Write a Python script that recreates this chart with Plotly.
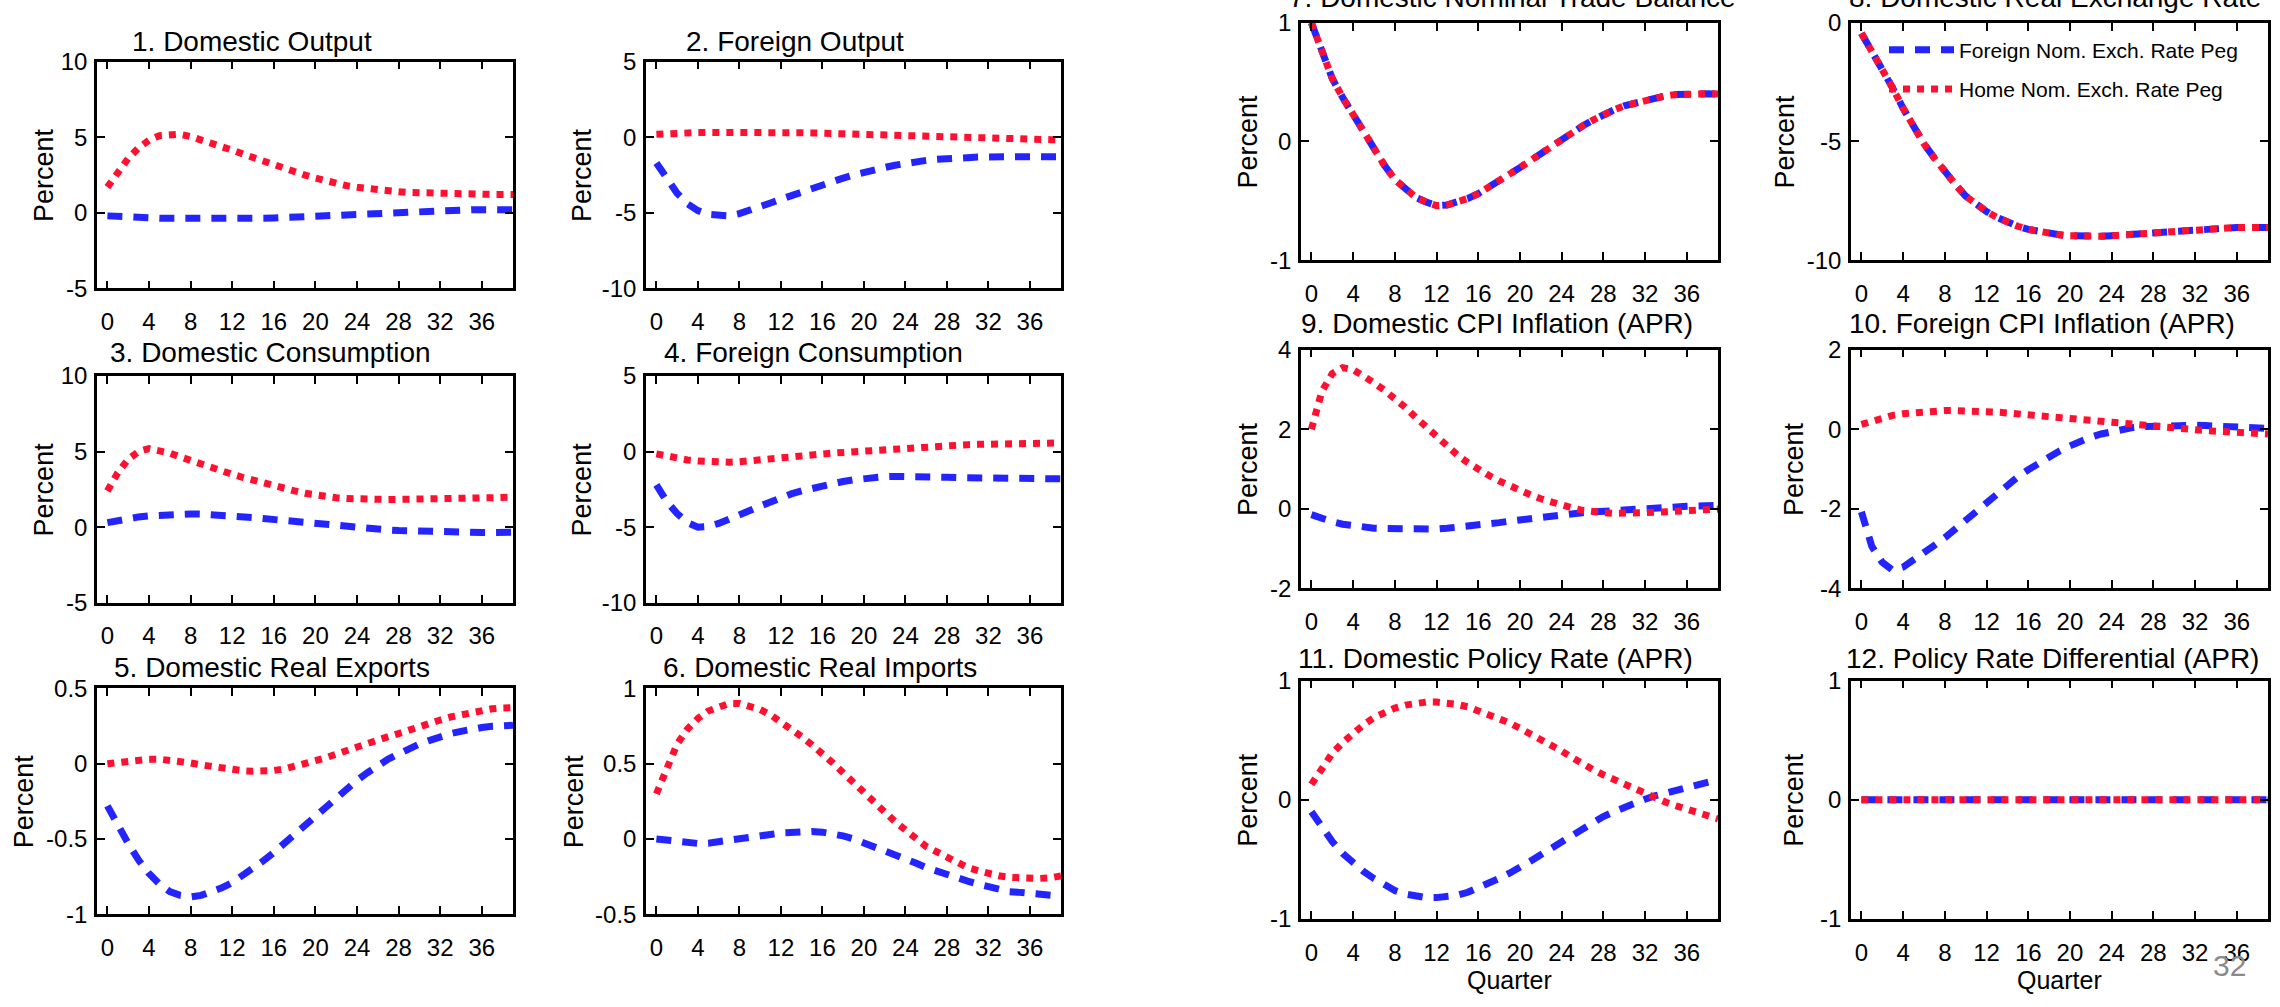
import plotly.graph_objects as go

W, H = 2280, 1007

quarters = list(range(40))

# ---- data ----
dom_output_foreign = [-0.2, -0.25, -0.3, -0.32, -0.34, -0.35, -0.36, -0.37, -0.37, -0.38, -0.38, -0.38, -0.38, -0.38, -0.37, -0.36, -0.34, -0.31, -0.28, -0.24, -0.2, -0.16, -0.12, -0.08, -0.04, 0.0, 0.04, 0.08, 0.11, 0.14, 0.16, 0.18, 0.19, 0.2, 0.21, 0.21, 0.21, 0.21, 0.2, 0.2]
dom_output_home = [1.7, 2.7, 3.6, 4.3, 4.8, 5.1, 5.2, 5.2, 5.05, 4.85, 4.65, 4.4, 4.15, 3.9, 3.65, 3.4, 3.15, 2.9, 2.7, 2.5, 2.3, 2.1, 1.95, 1.8, 1.7, 1.6, 1.5, 1.45, 1.4, 1.35, 1.32, 1.3, 1.28, 1.26, 1.25, 1.24, 1.23, 1.22, 1.22, 1.22]

for_output_foreign = [-1.7, -2.8, -3.7, -4.4, -4.85, -5.1, -5.2, -5.2, -5.05, -4.85, -4.6, -4.35, -4.1, -3.85, -3.6, -3.35, -3.1, -2.9, -2.7, -2.5, -2.3, -2.15, -2.0, -1.85, -1.72, -1.62, -1.53, -1.46, -1.4, -1.36, -1.33, -1.31, -1.3, -1.29, -1.28, -1.28, -1.28, -1.28, -1.28, -1.28]
for_output_home = [0.2, 0.25, 0.28, 0.3, 0.31, 0.32, 0.33, 0.33, 0.33, 0.33, 0.33, 0.32, 0.32, 0.31, 0.3, 0.29, 0.27, 0.25, 0.22, 0.19, 0.16, 0.13, 0.1, 0.07, 0.04, 0.01, -0.02, -0.04, -0.06, -0.08, -0.1, -0.11, -0.12, -0.13, -0.14, -0.15, -0.15, -0.16, -0.16, -0.16]

dom_cons_foreign = [0.3, 0.45, 0.58, 0.68, 0.75, 0.8, 0.84, 0.87, 0.88, 0.87, 0.84, 0.8, 0.75, 0.7, 0.64, 0.57, 0.5, 0.43, 0.36, 0.29, 0.22, 0.15, 0.08, 0.02, -0.04, -0.09, -0.14, -0.18, -0.22, -0.25, -0.28, -0.3, -0.32, -0.33, -0.34, -0.35, -0.35, -0.35, -0.34, -0.33]
dom_cons_home = [2.4, 3.6, 4.5, 5.0, 5.2, 5.1, 4.9, 4.65, 4.4, 4.15, 3.9, 3.7, 3.5, 3.3, 3.1, 2.9, 2.7, 2.55, 2.4, 2.25, 2.12, 2.02, 1.95, 1.9, 1.86, 1.84, 1.83, 1.83, 1.84, 1.85, 1.87, 1.89, 1.91, 1.93, 1.95, 1.96, 1.97, 1.98, 1.98, 1.98]

for_cons_foreign = [-2.2, -3.3, -4.1, -4.7, -5.0, -4.95, -4.75, -4.5, -4.2, -3.9, -3.6, -3.3, -3.0, -2.8, -2.6, -2.42, -2.27, -2.12, -1.98, -1.87, -1.77, -1.7, -1.66, -1.64, -1.63, -1.64, -1.66, -1.68, -1.7, -1.72, -1.73, -1.74, -1.75, -1.76, -1.77, -1.78, -1.78, -1.79, -1.79, -1.8]
for_cons_home = [-0.15, -0.3, -0.45, -0.55, -0.62, -0.67, -0.7, -0.7, -0.67, -0.62, -0.55, -0.48, -0.41, -0.34, -0.28, -0.22, -0.16, -0.1, -0.05, 0.0, 0.05, 0.1, 0.15, 0.2, 0.25, 0.29, 0.33, 0.37, 0.4, 0.43, 0.46, 0.48, 0.5, 0.52, 0.54, 0.55, 0.56, 0.57, 0.57, 0.57]

exports_foreign = [-0.28, -0.41, -0.53, -0.64, -0.73, -0.8, -0.85, -0.875, -0.885, -0.875, -0.855, -0.825, -0.79, -0.745, -0.7, -0.645, -0.59, -0.53, -0.47, -0.405, -0.34, -0.285, -0.23, -0.17, -0.11, -0.06, -0.01, 0.03, 0.065, 0.1, 0.13, 0.155, 0.18, 0.2, 0.215, 0.23, 0.24, 0.248, 0.252, 0.255]
exports_home = [0.0, 0.01, 0.02, 0.025, 0.03, 0.03, 0.025, 0.015, 0.005, -0.008, -0.02, -0.03, -0.04, -0.047, -0.05, -0.05, -0.045, -0.035, -0.02, 0.0, 0.02, 0.04, 0.065, 0.088, 0.11, 0.135, 0.16, 0.18, 0.2, 0.225, 0.25, 0.27, 0.29, 0.31, 0.325, 0.34, 0.355, 0.365, 0.37, 0.372]

imports_foreign = [0.0, -0.01, -0.02, -0.027, -0.03, -0.028, -0.02, -0.01, 0.0, 0.01, 0.02, 0.03, 0.04, 0.047, 0.05, 0.05, 0.045, 0.035, 0.02, 0.0, -0.025, -0.052, -0.08, -0.105, -0.13, -0.16, -0.19, -0.215, -0.24, -0.26, -0.28, -0.3, -0.32, -0.335, -0.35, -0.355, -0.36, -0.368, -0.375, -0.38]
imports_home = [0.3, 0.48, 0.63, 0.73, 0.8, 0.85, 0.88, 0.9, 0.9, 0.885, 0.86, 0.825, 0.78, 0.73, 0.68, 0.625, 0.57, 0.505, 0.44, 0.375, 0.31, 0.24, 0.17, 0.115, 0.06, 0.005, -0.05, -0.085, -0.12, -0.155, -0.19, -0.21, -0.23, -0.245, -0.255, -0.26, -0.262, -0.262, -0.258, -0.245]

trade_bal_foreign = [1.0, 0.75, 0.53, 0.37, 0.23, 0.07, -0.07, -0.2, -0.32, -0.4, -0.47, -0.51, -0.54, -0.535, -0.51, -0.48, -0.44, -0.39, -0.33, -0.275, -0.22, -0.16, -0.1, -0.04, 0.025, 0.08, 0.13, 0.18, 0.23, 0.265, 0.3, 0.325, 0.35, 0.37, 0.385, 0.395, 0.4, 0.402, 0.402, 0.4]
trade_bal_home = [1.0, 0.75, 0.53, 0.37, 0.23, 0.07, -0.07, -0.2, -0.32, -0.4, -0.47, -0.51, -0.54, -0.535, -0.51, -0.48, -0.44, -0.39, -0.33, -0.275, -0.22, -0.16, -0.1, -0.04, 0.025, 0.08, 0.13, 0.18, 0.23, 0.265, 0.3, 0.325, 0.35, 0.37, 0.385, 0.395, 0.4, 0.402, 0.402, 0.4]

rer_foreign = [-0.44, -1.2, -1.9, -2.75, -3.6, -4.35, -5.1, -5.7, -6.3, -6.8, -7.3, -7.65, -7.95, -8.2, -8.4, -8.57, -8.7, -8.8, -8.88, -8.93, -8.97, -8.99, -9.0, -8.99, -8.97, -8.94, -8.9, -8.85, -8.8, -8.77, -8.74, -8.7, -8.67, -8.65, -8.63, -8.62, -8.62, -8.62, -8.62, -8.62]
rer_home = [-0.44, -1.2, -1.9, -2.75, -3.6, -4.35, -5.1, -5.7, -6.3, -6.8, -7.3, -7.65, -7.95, -8.2, -8.4, -8.57, -8.7, -8.8, -8.88, -8.93, -8.97, -8.99, -9.0, -8.99, -8.97, -8.94, -8.9, -8.85, -8.8, -8.77, -8.74, -8.7, -8.67, -8.65, -8.63, -8.62, -8.62, -8.62, -8.62, -8.62]

dom_cpi_foreign = [-0.15, -0.25, -0.33, -0.39, -0.43, -0.46, -0.49, -0.5, -0.51, -0.52, -0.52, -0.52, -0.51, -0.49, -0.47, -0.44, -0.41, -0.38, -0.35, -0.315, -0.28, -0.25, -0.22, -0.185, -0.15, -0.125, -0.1, -0.08, -0.06, -0.04, -0.02, -0.01, 0.0, 0.015, 0.03, 0.045, 0.06, 0.07, 0.08, 0.085]
dom_cpi_home = [2.0, 2.95, 3.4, 3.55, 3.5, 3.35, 3.17, 2.98, 2.78, 2.55, 2.3, 2.05, 1.8, 1.57, 1.35, 1.16, 0.98, 0.84, 0.7, 0.57, 0.45, 0.35, 0.25, 0.16, 0.08, 0.02, -0.04, -0.08, -0.1, -0.115, -0.12, -0.115, -0.1, -0.09, -0.08, -0.065, -0.05, -0.04, -0.03, -0.01]

for_cpi_foreign = [-2.08, -2.95, -3.35, -3.55, -3.47, -3.3, -3.1, -2.92, -2.73, -2.51, -2.29, -2.06, -1.84, -1.61, -1.39, -1.2, -1.02, -0.85, -0.69, -0.55, -0.42, -0.3, -0.2, -0.12, -0.06, 0.0, 0.04, 0.065, 0.08, 0.092, 0.1, 0.1, 0.1, 0.092, 0.08, 0.072, 0.065, 0.05, 0.03, 0.02]
for_cpi_home = [0.12, 0.21, 0.29, 0.35, 0.39, 0.42, 0.45, 0.46, 0.47, 0.47, 0.47, 0.46, 0.45, 0.43, 0.41, 0.385, 0.36, 0.33, 0.3, 0.275, 0.25, 0.225, 0.2, 0.175, 0.15, 0.125, 0.1, 0.082, 0.065, 0.04, 0.02, 0.0, -0.02, -0.035, -0.05, -0.065, -0.08, -0.09, -0.1, -0.12]

policy_foreign = [-0.1, -0.23, -0.35, -0.45, -0.53, -0.6, -0.66, -0.715, -0.76, -0.79, -0.81, -0.82, -0.82, -0.815, -0.8, -0.775, -0.74, -0.7, -0.66, -0.615, -0.57, -0.515, -0.46, -0.405, -0.35, -0.295, -0.24, -0.19, -0.14, -0.1, -0.06, -0.025, 0.005, 0.035, 0.06, 0.085, 0.11, 0.135, 0.155, 0.17]
policy_home = [0.13, 0.27, 0.39, 0.48, 0.56, 0.63, 0.69, 0.735, 0.77, 0.795, 0.81, 0.82, 0.82, 0.815, 0.8, 0.78, 0.75, 0.72, 0.69, 0.645, 0.6, 0.555, 0.51, 0.46, 0.41, 0.355, 0.3, 0.255, 0.21, 0.17, 0.13, 0.09, 0.05, 0.015, -0.02, -0.05, -0.08, -0.105, -0.13, -0.16]

rate_diff_foreign = [0.0, 0.0, 0.0, 0.0, 0.0, 0.0, 0.0, 0.0, 0.0, 0.0, 0.0, 0.0, 0.0, 0.0, 0.0, 0.0, 0.0, 0.0, 0.0, 0.0, 0.0, 0.0, 0.0, 0.0, 0.0, 0.0, 0.0, 0.0, 0.0, 0.0, 0.0, 0.0, 0.0, 0.0, 0.0, 0.0, 0.0, 0.0, 0.0, 0.0]
rate_diff_home = [0.0, 0.0, 0.0, 0.0, 0.0, 0.0, 0.0, 0.0, 0.0, 0.0, 0.0, 0.0, 0.0, 0.0, 0.0, 0.0, 0.0, 0.0, 0.0, 0.0, 0.0, 0.0, 0.0, 0.0, 0.0, 0.0, 0.0, 0.0, 0.0, 0.0, 0.0, 0.0, 0.0, 0.0, 0.0, 0.0, 0.0, 0.0, 0.0, 0.0]

titles = ["1. Domestic Output", "2. Foreign Output", "3. Domestic Consumption", "4. Foreign Consumption",
          "5. Domestic Real Exports", "6. Domestic Real Imports", "7. Domestic Nominal Trade Balance",
          "8. Domestic Real Exchange Rate", "9. Domestic CPI Inflation (APR)", "10. Foreign CPI Inflation (APR)",
          "11. Domestic Policy Rate (APR)", "12. Policy Rate Differential (APR)"]

y_ranges = [[-5, 10], [-10, 5], [-5, 10], [-10, 5], [-1, 0.5], [-0.5, 1],
            [-1, 1], [-10, 0], [-2, 4], [-4, 2], [-1, 1], [-1, 1]]
y_tickvals = [[-5, 0, 5, 10], [-10, -5, 0, 5], [-5, 0, 5, 10], [-10, -5, 0, 5],
              [-1, -0.5, 0, 0.5], [-0.5, 0, 0.5, 1], [-1, 0, 1], [-10, -5, 0],
              [-2, 0, 2, 4], [-4, -2, 0, 2], [-1, 0, 1], [-1, 0, 1]]
y_ticktext = [["-5", "0", "5", "10"], ["-10", "-5", "0", "5"], ["-5", "0", "5", "10"], ["-10", "-5", "0", "5"],
              ["-1", "-0.5", "0", "0.5"], ["-0.5", "0", "0.5", "1"], ["-1", "0", "1"], ["-10", "-5", "0"],
              ["-2", "0", "2", "4"], ["-4", "-2", "0", "2"], ["-1", "0", "1"], ["-1", "0", "1"]]
x_tickvals = [0, 4, 8, 12, 16, 20, 24, 28, 32, 36]
x_ticktext = ["0", "4", "8", "12", "16", "20", "24", "28", "32", "36"]

foreign_series = [dom_output_foreign, for_output_foreign, dom_cons_foreign, for_cons_foreign,
                  exports_foreign, imports_foreign, trade_bal_foreign, rer_foreign,
                  dom_cpi_foreign, for_cpi_foreign, policy_foreign, rate_diff_foreign]
home_series = [dom_output_home, for_output_home, dom_cons_home, for_cons_home,
               exports_home, imports_home, trade_bal_home, rer_home,
               dom_cpi_home, for_cpi_home, policy_home, rate_diff_home]

legend_names = ["Foreign Nom. Exch. Rate Peg", "Home Nom. Exch. Rate Peg"]

# ---- layout geometry (pixels) ----
cols_px = {"A": (97, 513), "B": (646, 1061), "C": (1301, 1718), "D": (1851, 2268)}
rows_left = [(49, 282), (372, 605), (693, 925)]
rows_right = [(9, 253), (345, 590), (685, 930)]
panel_pos = []
for i in range(12):
    if i < 6:
        col = "A" if i % 2 == 0 else "B"
        row = rows_left[i // 2]
    else:
        col = "C" if i % 2 == 0 else "D"
        row = rows_right[(i - 6) // 2]
    panel_pos.append((cols_px[col], row))

title_pos = [(252, 28), (795, 28), (270, 348), (813, 348), (272, 672), (820, 672),
             (1512, -17), (2055, -17), (1497, 318), (2042, 318), (1495, 662), (2052, 662)]
percent_x = [44, 582, 44, 582, 24, 574, 1248, 1785, 1248, 1794, 1248, 1794]

BLUE = "#2424ff"
RED = "#ff1030"
FONT = "Liberation Sans, Arial, sans-serif"

fig = go.Figure()
layout = dict(width=W, height=H, margin=dict(l=0, r=0, t=0, b=0),
              paper_bgcolor="white", plot_bgcolor="white")
annotations = []

for i in range(12):
    n = i + 1
    xs = "" if n == 1 else str(n)
    (x0, x1), (y0, y1) = panel_pos[i]
    fig.add_trace(go.Scatter(x=quarters, y=foreign_series[i], mode="lines",
                             xaxis="x" + xs, yaxis="y" + xs,
                             line=dict(color=BLUE, width=7, dash="15px,11px"),
                             name=legend_names[0], legendgroup="f", showlegend=(i == 0)))
    fig.add_trace(go.Scatter(x=quarters, y=home_series[i], mode="lines",
                             xaxis="x" + xs, yaxis="y" + xs,
                             line=dict(color=RED, width=7, dash="7px,7px"),
                             name=legend_names[1], legendgroup="h", showlegend=(i == 0)))
    common = dict(showline=True, linecolor="black", linewidth=2.5, mirror="ticks",
                  ticks="inside", ticklen=8, tickwidth=2, tickcolor="black",
                  showgrid=False, zeroline=False, fixedrange=True)
    layout["xaxis" + xs] = dict(domain=[x0 / W, x1 / W], anchor="y" + xs, range=[-1, 39],
                                tickvals=x_tickvals, ticktext=x_ticktext,
                                tickfont=dict(family=FONT, size=24, color="black"),
                                ticklabelstandoff=10, **common)
    layout["yaxis" + xs] = dict(domain=[1 - y1 / H, 1 - y0 / H], anchor="x" + xs, range=y_ranges[i],
                                tickvals=y_tickvals[i], ticktext=y_ticktext[i],
                                tickfont=dict(family=FONT, size=24, color="black"),
                                ticklabelstandoff=2, **common)
    tx, ty = title_pos[i]
    annotations.append(dict(text=titles[i], x=tx / W, y=1 - ty / H, xref="paper", yref="paper",
                            xanchor="center", yanchor="middle", showarrow=False,
                            font=dict(family=FONT, size=28, color="black")))
    annotations.append(dict(text="Percent", x=percent_x[i] / W, y=1 - (y0 + y1) / 2 / H,
                            xref="paper", yref="paper", xanchor="center", yanchor="middle",
                            textangle=-90, showarrow=False,
                            font=dict(family=FONT, size=27, color="black")))

for cx in [1510, 2059]:
    annotations.append(dict(text="Quarter", x=cx / W, y=1 - 993 / H, xref="paper", yref="paper",
                            xanchor="center", yanchor="middle", showarrow=False,
                            font=dict(family=FONT, size=25, color="black")))

annotations.append(dict(text="32", x=2229 / W, y=1 - 978 / H, xref="paper", yref="paper",
                        xanchor="center", yanchor="middle", showarrow=False,
                        font=dict(family=FONT, size=30, color="#8a8a8a")))

layout["annotations"] = annotations
layout["showlegend"] = True
layout["legend"] = dict(x=1884 / W, y=1 - 16 / H, xanchor="left", yanchor="top",
                        bgcolor="rgba(0,0,0,0)", borderwidth=0,
                        font=dict(family=FONT, size=21, color="black"),
                        itemwidth=65, traceorder="grouped", tracegroupgap=9)
fig.update_layout(**layout)

fig.write_html("out.html")
